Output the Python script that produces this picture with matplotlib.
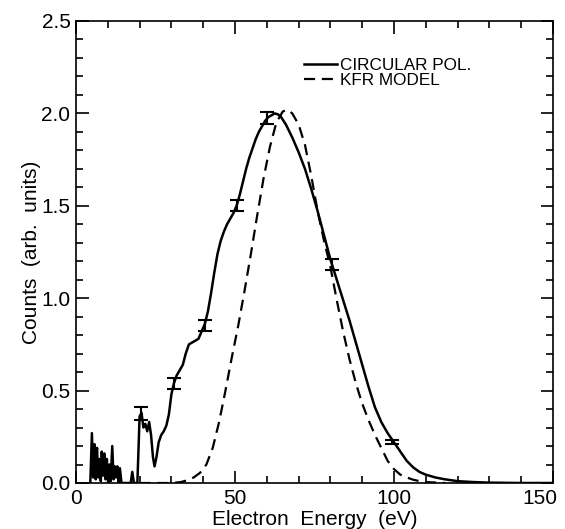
import matplotlib
matplotlib.use("Agg")
import matplotlib.pyplot as plt
from matplotlib.ticker import MultipleLocator, FuncFormatter

plt.rcParams['font.family'] = ['Liberation Sans', 'DejaVu Sans']

# ── 데이터: circular pol. (solid) ───────────────────────────────
circ_x = [4.5, 5.0, 5.4, 5.8, 6.2, 6.6, 7.0, 7.4, 7.8, 8.1, 8.5, 8.9, 9.3, 9.7,
          10.1, 10.5, 10.9, 11.4, 11.8, 12.2, 12.6, 13.0, 13.4, 13.8, 14.3,
          17.2, 17.7, 18.2, 19.3, 20.0, 20.6, 21.2, 21.8, 22.4, 23.0, 23.6,
          24.2, 24.7, 25.3, 26.0, 26.8, 27.6, 28.4, 29.2, 30.0, 30.8, 31.6,
          32.6, 33.6, 34.5, 35.5, 36.5, 37.5, 38.5, 39.5, 40.5, 41.5, 42.5,
          43.5, 44.5, 45.5, 46.5, 47.5, 48.5, 49.5, 50.5, 51.5, 52.5, 53.5,
          54.5, 55.5, 56.5, 57.5, 58.5, 59.5, 60.5, 61.5, 62.5, 63.5, 64.5,
          66, 68, 70, 72, 74, 76, 78, 80, 82, 84, 86, 88, 90, 92, 94, 96, 98,
          100, 102, 104, 106, 108, 110, 113, 116, 120, 125, 130, 140, 150]
circ_y = [0.0, 0.27, 0.03, 0.21, 0.02, 0.19, 0.03, 0.13, 0.01, 0.17, 0.04, 0.16,
          0.02, 0.13, 0.0, 0.10, 0.01, 0.20, 0.02, 0.09, 0.03, 0.09, 0.0, 0.08,
          0.0, 0.0, 0.06, 0.0, 0.0, 0.36, 0.38, 0.30, 0.32, 0.28, 0.33, 0.26,
          0.14, 0.09, 0.14, 0.22, 0.26, 0.28, 0.31, 0.37, 0.48, 0.54, 0.58,
          0.61, 0.64, 0.70, 0.75, 0.76, 0.77, 0.78, 0.82, 0.86, 0.93, 1.03,
          1.14, 1.24, 1.31, 1.36, 1.40, 1.43, 1.46, 1.50, 1.56, 1.63, 1.70,
          1.76, 1.81, 1.86, 1.90, 1.93, 1.96, 1.98, 1.99, 2.00, 1.995, 1.98,
          1.94, 1.87, 1.79, 1.70, 1.59, 1.47, 1.34, 1.21, 1.10, 0.99, 0.88,
          0.76, 0.64, 0.52, 0.41, 0.33, 0.27, 0.22, 0.17, 0.12, 0.085, 0.06,
          0.045, 0.03, 0.02, 0.01, 0.005, 0.002, 0.0, 0.0]

# ── 데이터: KFR model (dashed) ─────────────────────────────────
kfr_x = [20, 30, 33, 35, 37, 39, 41, 43, 45, 47, 49, 51, 53, 55, 57, 59, 61,
         63, 65, 66.5, 68, 70, 72, 74, 76, 78, 80, 82, 84, 86, 88, 90, 92, 94,
         96, 98, 100, 102, 104, 106, 108, 110, 116]
kfr_y = [0.0, 0.0, 0.005, 0.015, 0.03, 0.055, 0.10, 0.19, 0.33, 0.50, 0.68,
         0.85, 1.04, 1.24, 1.45, 1.65, 1.82, 1.95, 2.01, 2.02, 2.00, 1.94,
         1.83, 1.66, 1.47, 1.31, 1.17, 0.99, 0.82, 0.67, 0.54, 0.43, 0.34,
         0.26, 0.19, 0.12, 0.075, 0.045, 0.03, 0.018, 0.01, 0.005, 0.0]

# ── 에러바 ─────────────────────────────────────────────────────
err_x = [20.5, 30.8, 40.5, 50.5, 60.0, 80.5, 99.5]
err_y = [0.375, 0.54, 0.85, 1.50, 1.975, 1.18, 0.22]
err_e = [0.035, 0.03, 0.03, 0.03, 0.035, 0.03, 0.01]

XMAX = 150

fig = plt.figure(figsize=(5.65, 5.29), dpi=100)
ax = fig.add_axes([76/565, 46/529, 477/565, 462/529])

ax.plot(circ_x, circ_y, color='black', lw=1.8, label='CIRCULAR POL.')
ax.plot(kfr_x, kfr_y, color='black', lw=1.6, dashes=(5, 3), label='KFR MODEL')
ax.errorbar(err_x, err_y, yerr=err_e, fmt='none', ecolor='black',
            elinewidth=1.5, capsize=5, capthick=1.5)

ax.set_xlim(0, XMAX)
ax.set_ylim(0, 2.5)
ax.xaxis.set_major_locator(MultipleLocator(50))
ax.xaxis.set_minor_locator(MultipleLocator(10))
# 150 라벨은 그림 밖으로 잘리지 않게 따로 그림
ax.xaxis.set_major_formatter(FuncFormatter(
    lambda v, p: '' if v >= XMAX else f'{v:.0f}'))
ax.yaxis.set_major_locator(MultipleLocator(0.5))
ax.yaxis.set_minor_locator(MultipleLocator(0.1))
ax.yaxis.set_major_formatter(plt.FormatStrFormatter('%.1f'))
ax.tick_params(which='both', direction='in', top=True, right=True,
               labelsize=15, width=1.2, pad=4)
ax.tick_params(which='major', length=9)
ax.tick_params(which='minor', length=5)
for s in ax.spines.values():
    s.set_linewidth(1.2)

ax.annotate(f'{XMAX}', xy=(XMAX, 0), xycoords=('data', 'axes fraction'),
            xytext=(3, -4), textcoords='offset points',
            ha='right', va='top', fontsize=15)

ax.set_xlabel('Electron  Energy  (eV)', fontsize=15, labelpad=2)
ax.set_ylabel('Counts  (arb.  units)', fontsize=15, labelpad=0)

ax.legend(loc='upper left', bbox_to_anchor=(0.461, 0.939), frameon=False,
          fontsize=12.3, handlelength=1.9, handletextpad=0.2,
          labelspacing=0.0, borderpad=0)

fig.savefig('out.png', dpi=100)
